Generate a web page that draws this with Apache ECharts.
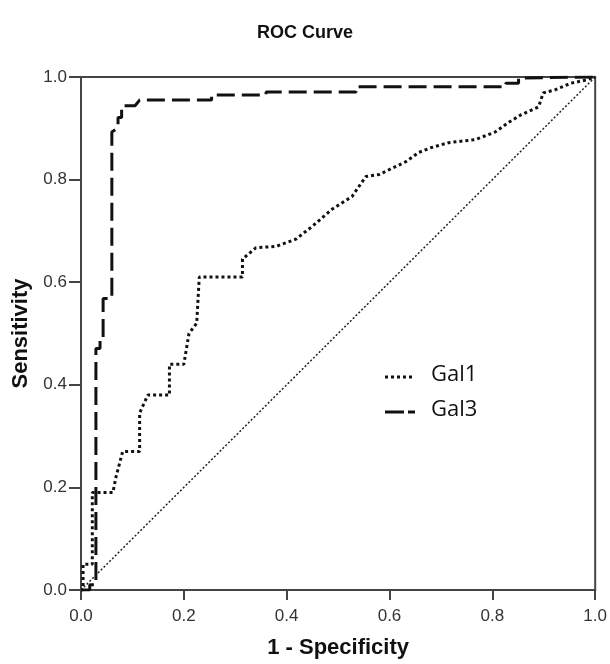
<!DOCTYPE html>
<html>
<head>
<meta charset="utf-8">
<script src="https://cdn.jsdelivr.net/npm/echarts@6/dist/echarts.min.js"></script>
<style>html,body{margin:0;padding:0;background:#fff}#c{width:610px;height:664px}</style>
</head>
<body>
<div id="c"></div>
<script>
// 1 - Specificity / Sensitivity pairs
const gal1X = [0, 0.004, 0.004, 0.022, 0.022, 0.033, 0.062, 0.068, 0.081, 0.114, 0.114, 0.13, 0.172, 0.172, 0.2, 0.21, 0.225, 0.23, 0.314, 0.314, 0.34, 0.38, 0.418, 0.45, 0.488, 0.527, 0.554, 0.58, 0.632, 0.657, 0.68, 0.715, 0.767, 0.806, 0.831, 0.855, 0.89, 0.899, 0.922, 0.953, 0.982, 1];
const gal1Y = [0, 0, 0.05, 0.05, 0.19, 0.19, 0.19, 0.22, 0.27, 0.27, 0.345, 0.38, 0.38, 0.44, 0.44, 0.5, 0.52, 0.61, 0.61, 0.645, 0.667, 0.67, 0.684, 0.709, 0.742, 0.767, 0.806, 0.81, 0.835, 0.853, 0.862, 0.872, 0.878, 0.893, 0.911, 0.926, 0.942, 0.969, 0.975, 0.988, 0.994, 1];
const gal3X = [0, 0.017, 0.017, 0.029, 0.029, 0.037, 0.037, 0.043, 0.043, 0.06, 0.06, 0.072, 0.072, 0.079, 0.079, 0.105, 0.114, 0.254, 0.254, 0.36, 0.36, 0.535, 0.535, 0.826, 0.826, 0.851, 0.851, 1];
const gal3Y = [0, 0, 0.01, 0.01, 0.471, 0.471, 0.486, 0.486, 0.568, 0.568, 0.893, 0.901, 0.921, 0.921, 0.944, 0.944, 0.955, 0.955, 0.965, 0.965, 0.971, 0.971, 0.981, 0.981, 0.988, 0.988, 0.998, 1];
const refX = [0, 1];
const refY = [0, 1];
const seriesNames = ['Gal1', 'Gal3'];

const zip = (a, b) => a.map((v, i) => [v, b[i]]);
const chart = echarts.init(document.getElementById('c'), null, {renderer: 'canvas'});
const FONT = 'Liberation Sans, Arial';
const axisCommon = {
  type: 'value', min: 0, max: 1, interval: 0.2,
  axisLine: {show: true, lineStyle: {color: '#444', width: 2}},
  axisTick: {show: true, inside: false, length: 10, lineStyle: {color: '#444', width: 2}},
  axisLabel: {color: '#333', fontSize: 17, fontFamily: FONT, formatter: v => v.toFixed(1)},
  splitLine: {show: false},
  nameLocation: 'middle',
  nameTextStyle: {color: '#111', fontSize: 22, fontWeight: 'bold', fontFamily: FONT}
};
const legendFont = {fontSize: 22, fill: '#111', fontFamily: 'Open Sans, Noto Sans', verticalAlign: 'middle'};
chart.setOption({
  animation: false,
  backgroundColor: '#fff',
  title: {text: 'ROC Curve', left: 'center', top: 19,
    textStyle: {fontSize: 18, fontWeight: 'bold', color: '#111', fontFamily: FONT}},
  grid: {left: 81, top: 77, right: 13, bottom: 71, show: true, borderColor: '#444', borderWidth: 2, backgroundColor: 'transparent'},
  xAxis: Object.assign({}, axisCommon, {name: '1 - Specificity', nameGap: 47,
    axisLabel: Object.assign({}, axisCommon.axisLabel, {margin: 18})}),
  yAxis: Object.assign({}, axisCommon, {name: 'Sensitivity', nameGap: 49,
    axisTick: Object.assign({}, axisCommon.axisTick, {length: 12}),
    axisLabel: Object.assign({}, axisCommon.axisLabel, {margin: 14})}),
  graphic: [
    {type: 'line', shape: {x1: 385, y1: 377, x2: 415, y2: 377}, style: {stroke: '#111', lineWidth: 3, lineDash: [3, 3]}},
    {type: 'text', left: 431, top: 364, style: Object.assign({text: seriesNames[0]}, legendFont)},
    {type: 'line', shape: {x1: 385, y1: 412, x2: 415, y2: 412}, style: {stroke: '#111', lineWidth: 3, lineDash: [19, 4]}},
    {type: 'text', left: 431, top: 399, style: Object.assign({text: seriesNames[1]}, legendFont)}
  ],
  series: [
    {name: seriesNames[0], type: 'line', data: zip(gal1X, gal1Y), symbol: 'none',
      lineStyle: {color: '#111', width: 3, type: [3, 3]}, z: 3},
    {name: seriesNames[1], type: 'line', data: zip(gal3X, gal3Y), symbol: 'none',
      lineStyle: {color: '#111', width: 3, type: [18, 7]}, z: 4},
    {name: 'Ref', type: 'line', data: zip(refX, refY), symbol: 'none',
      lineStyle: {color: '#222', width: 1.5, type: [2, 2]}, z: 2}
  ]
});
</script>
</body>
</html>
